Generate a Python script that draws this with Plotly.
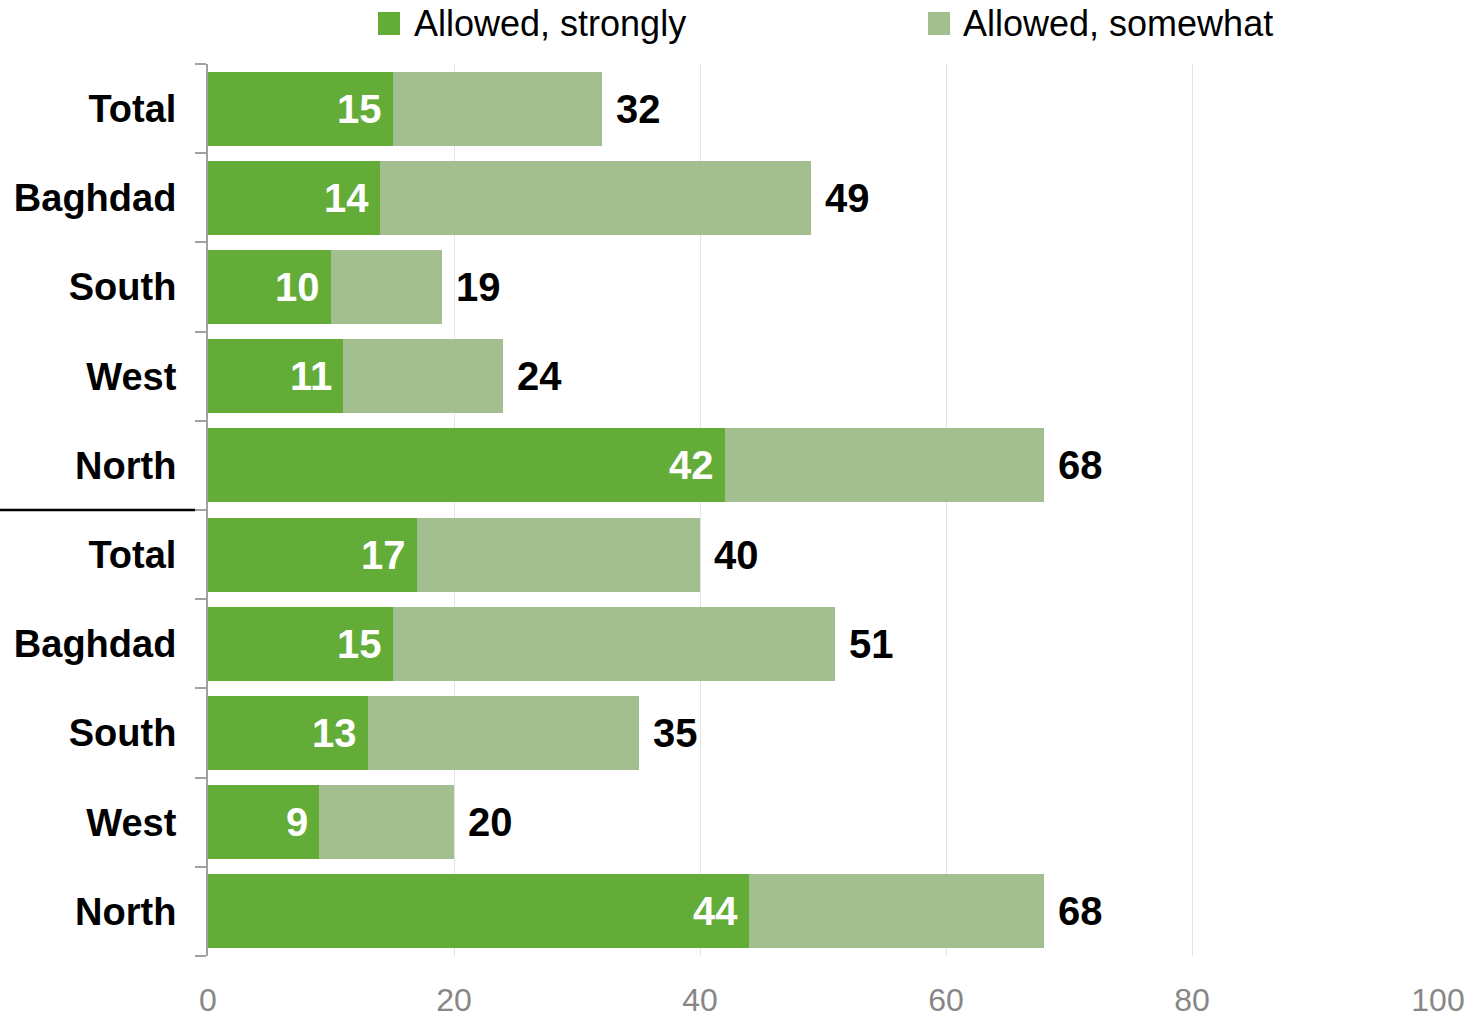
import plotly.graph_objects as go

# Regions, listed top to bottom (two survey groups of five rows each)
regions = ["Total", "Baghdad", "South", "West", "North",
           "Total", "Baghdad", "South", "West", "North"]
strongly = [15, 14, 10, 11, 42, 17, 15, 13, 9, 44]
totals = [32, 49, 19, 24, 68, 40, 51, 35, 20, 68]
somewhat = [t - s for t, s in zip(totals, strongly)]

series_names = ["Allowed, strongly", "Allowed, somewhat"]
colors = ["#62ac37", "#a3be8f"]
x_ticks = [0, 20, 40, 60, 80, 100]

FONT = "Liberation Sans, Arial, sans-serif"
rows = list(range(len(regions)))

fig = go.Figure()
fig.add_trace(go.Bar(y=rows, x=strongly, orientation="h", name=series_names[0],
                     marker=dict(color=colors[0], line=dict(width=0)),
                     showlegend=False, hoverinfo="x"))
fig.add_trace(go.Bar(y=rows, x=somewhat, orientation="h", name=series_names[1],
                     marker=dict(color=colors[1], line=dict(width=0)),
                     showlegend=False, hoverinfo="x"))

annotations = []
# white values inside the "strongly" segment, right aligned
for r, s in zip(rows, strongly):
    annotations.append(dict(x=s, y=r, xref="x", yref="y", text=str(s),
                            showarrow=False, xanchor="right", yanchor="middle",
                            xshift=-9, font=dict(family=FONT, size=40, color="white",
                                                 weight="bold")))
# totals just past the end of each bar
for r, t in zip(rows, totals):
    annotations.append(dict(x=t, y=r, xref="x", yref="y", text=str(t),
                            showarrow=False, xanchor="left", yanchor="middle",
                            xshift=12, font=dict(family=FONT, size=40, color="black",
                                                 weight="bold")))

# legend drawn as swatches + labels across the top
legend_swatch_x = [(0.1382, 0.1561), (0.5854, 0.6033)]
legend_text_x = [0.1659, 0.6122]
shapes = []
for (x0, x1), tx, name, col in zip(legend_swatch_x, legend_text_x, series_names, colors):
    shapes.append(dict(type="rect", xref="paper", yref="paper", x0=x0, x1=x1,
                       y0=1.0325, y1=1.0583, fillcolor=col, line=dict(width=0)))
    annotations.append(dict(x=tx, y=1.0455, xref="paper", yref="paper", text=name,
                            showarrow=False, xanchor="left", yanchor="middle",
                            font=dict(family=FONT, size=36, color="black")))

# divider between the two groups, in the label column
shapes.append(dict(type="line", xref="paper", yref="y", x0=-0.17, x1=-0.0106,
                   y0=4.5, y1=4.5, line=dict(color="black", width=2.5)))

fig.update_layout(
    width=1480, height=1019,
    margin=dict(l=208, r=42, t=64, b=63),
    paper_bgcolor="white", plot_bgcolor="white",
    barmode="stack", bargap=0.17,
    showlegend=False,
    font=dict(family=FONT),
    annotations=annotations,
    shapes=shapes,
)
fig.update_xaxes(
    range=[0, 100], tickvals=x_ticks, ticktext=[str(v) for v in x_ticks],
    showgrid=True, gridcolor="#e3e3e3", gridwidth=1, zeroline=False,
    showline=False, ticks="", ticklabelstandoff=22, automargin=False,
    tickfont=dict(family=FONT, size=32, color="#878787"),
)
fig.update_yaxes(
    range=[9.5, -0.5], tickvals=rows, ticktext=regions,
    showgrid=False, zeroline=False, showline=True, linecolor="#a0a0a0", linewidth=2,
    ticks="", ticklabelstandoff=22, automargin=False,
    tickfont=dict(family=FONT, size=38, color="black", weight="bold"),
    minor=dict(tickvals=[r - 0.5 for r in rows] + [rows[-1] + 0.5],
               ticks="outside", ticklen=11, tickwidth=2, tickcolor="#a0a0a0",
               showgrid=False),
)

fig.write_html("out.html")
